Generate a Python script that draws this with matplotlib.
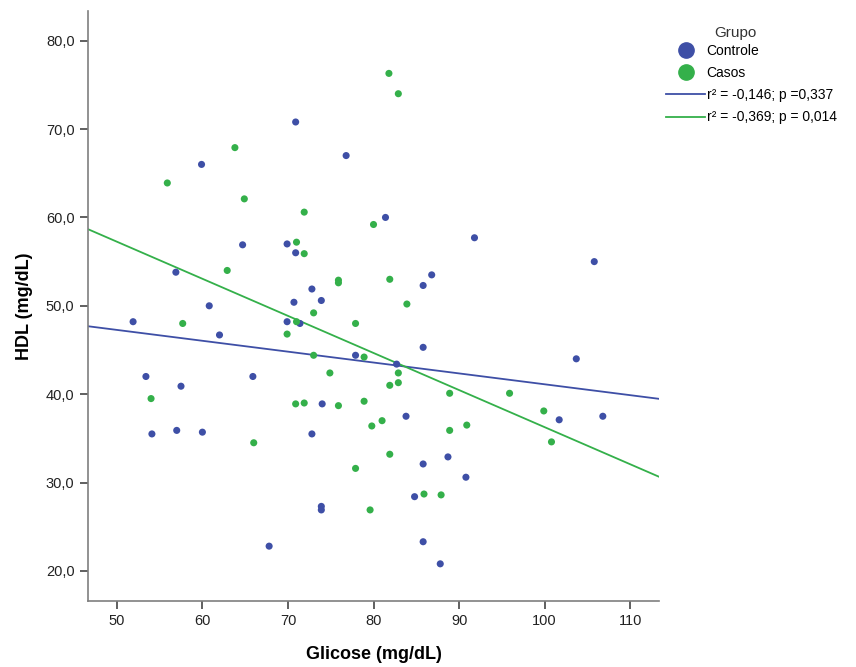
import numpy as np
import matplotlib.pyplot as plt
from matplotlib.lines import Line2D
from matplotlib.ticker import FuncFormatter

plt.rcParams['font.family'] = ['Liberation Sans', 'DejaVu Sans']

# Controle (blue)
glic_controle = [70.9, 59.9, 76.8, 81.4, 91.8, 105.8, 64.7, 69.9, 70.9, 56.9, 86.8,
                 85.8, 72.8, 60.8, 70.7, 73.9, 71.4, 51.9, 69.9, 62.0, 85.8, 77.9,
                 82.7, 103.7, 53.4, 65.9, 57.5, 74.0, 83.8, 106.8, 101.7, 54.1, 57.0,
                 60.0, 72.8, 85.8, 88.7, 90.8, 84.8, 73.9, 73.9, 85.8, 67.8, 87.8]
hdl_controle = [70.8, 66.0, 67.0, 60.0, 57.7, 55.0, 56.9, 57.0, 56.0, 53.8, 53.5,
                52.3, 51.9, 50.0, 50.4, 50.6, 48.0, 48.2, 48.2, 46.7, 45.3, 44.4,
                43.4, 44.0, 42.0, 42.0, 40.9, 38.9, 37.5, 37.5, 37.1, 35.5, 35.9,
                35.7, 35.5, 32.1, 32.9, 30.6, 28.4, 27.3, 26.9, 23.3, 22.8, 20.8]

# Casos (green)
glic_casos = [81.8, 82.9, 63.8, 55.9, 64.9, 71.9, 80.0, 71.0, 71.9, 62.9, 75.9,
              75.9, 81.9, 83.9, 73.0, 57.7, 71.0, 77.9, 69.9, 73.0, 78.9, 74.9,
              82.9, 81.9, 82.9, 88.9, 95.9, 54.0, 70.9, 71.9, 75.9, 78.9, 99.9,
              81.0, 79.8, 88.9, 90.9, 100.8, 66.0, 81.9, 77.9, 85.9, 87.9, 79.6]
hdl_casos = [76.3, 74.0, 67.9, 63.9, 62.1, 60.6, 59.2, 57.2, 55.9, 54.0, 52.9,
             52.6, 53.0, 50.2, 49.2, 48.0, 48.2, 48.0, 46.8, 44.4, 44.2, 42.4,
             42.4, 41.0, 41.3, 40.1, 40.1, 39.5, 38.9, 39.0, 38.7, 39.2, 38.1,
             37.0, 36.4, 35.9, 36.5, 34.6, 34.5, 33.2, 31.6, 28.7, 28.6, 26.9]

legend_lines = ["r\u00b2 = -0,146; p =0,337", "r\u00b2 = -0,369; p = 0,014"]

BLUE = "#3E4FA6"
GREEN = "#34B04A"

fig = plt.figure(figsize=(8.56, 6.67), dpi=100)
ax = fig.add_axes([0.1025, 0.0997, 0.6677, 0.8838])

ax.scatter(glic_controle, hdl_controle, s=26, color=BLUE, edgecolors="none", zorder=3)
ax.scatter(glic_casos, hdl_casos, s=26, color=GREEN, edgecolors="none", zorder=3)

# linear fit per group, drawn across the whole x range
x_min, x_max = 46.6, 113.4
xs = np.array([x_min, x_max])
b1, a1 = np.polyfit(glic_controle, hdl_controle, 1)
b2, a2 = np.polyfit(glic_casos, hdl_casos, 1)
ax.plot(xs, a1 + b1 * xs, color=BLUE, lw=1.3, zorder=2)
ax.plot(xs, a2 + b2 * xs, color=GREEN, lw=1.3, zorder=2)

ax.set_xlim(x_min, x_max)
ax.set_ylim(16.65, 83.36)
ax.set_xticks(np.arange(50, 111, 10))
ax.set_yticks(np.arange(20, 81, 10))
ax.yaxis.set_major_formatter(FuncFormatter(lambda v, p: f"{v:.1f}".replace(".", ",")))

for s in ["top", "right"]:
    ax.spines[s].set_visible(False)
for s in ["left", "bottom"]:
    ax.spines[s].set_color("#7f7f7f")
    ax.spines[s].set_linewidth(1.2)
ax.tick_params(direction="out", length=6, width=1.2, color="#444444",
               labelsize=10.5, labelcolor="#222222")

ax.set_xlabel("Glicose (mg/dL)", fontsize=13, fontweight="bold", labelpad=13)
ax.set_ylabel("HDL (mg/dL)", fontsize=13, fontweight="bold", labelpad=9)

handles = [
    Line2D([], [], marker="o", ls="none", markersize=11, color=BLUE),
    Line2D([], [], marker="o", ls="none", markersize=11, color=GREEN),
    Line2D([], [], color=BLUE, lw=1.3),
    Line2D([], [], color=GREEN, lw=1.3),
]
labels = ["Controle", "Casos"] + legend_lines
fig.text(0.859, 0.951, "Grupo", ha="center", va="center", fontsize=11, color="#333333")
fig.legend(handles, labels, loc="upper left",
           bbox_to_anchor=(0.772, 0.942), frameon=False, fontsize=10,
           handlelength=2.8, handletextpad=0.1,
           labelspacing=0.58, borderaxespad=0)

fig.savefig("out.png", dpi=100)
